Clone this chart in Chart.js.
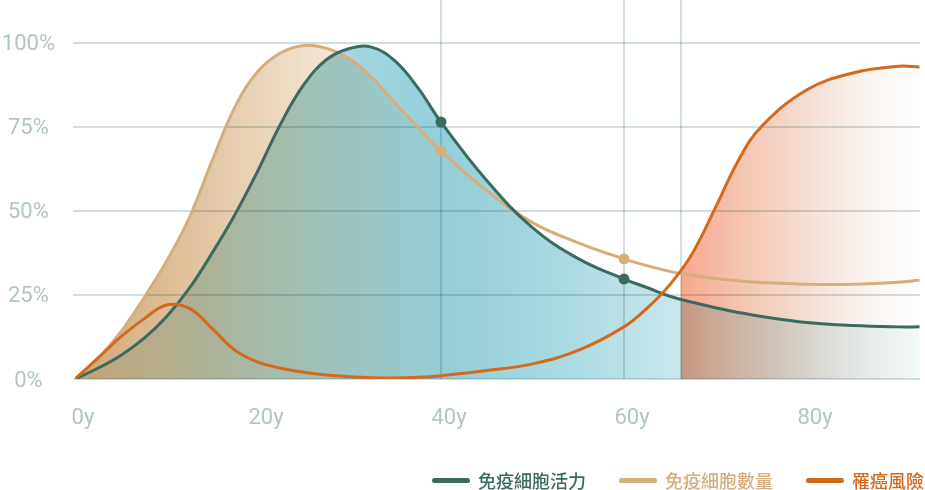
<!DOCTYPE html>
<html>
<head>
<meta charset="utf-8">
<script src="https://cdn.jsdelivr.net/npm/chart.js@4"></script>
<style>
  body { margin: 0; background: #fff; }
  #wrap { position: relative; width: 925px; height: 490px; }
  #legend { position: absolute; left: 432px; top: 468px; display: flex; gap: 33px; align-items: center;
            font: 500 18px "Noto Sans CJK TC", sans-serif; line-height: 24px; }
  #legend .item { display: flex; align-items: center; }
  #legend i { display: block; width: 38px; height: 5px; border-radius: 3px; margin-right: 8px; }
</style>
</head>
<body>
<div id="wrap">
  <canvas id="myChart" width="925" height="490"></canvas>
  <div id="legend"></div>
</div>
<script>
// ages (years) and values (%)
const ages        = [0, 2.5, 5, 7.5, 10, 12.5, 15, 17.5, 20, 22.5, 25, 27.5, 30, 32.5, 35, 37.5, 40, 45, 50, 55, 60, 62.5, 65, 67.5, 70, 72.5, 75, 80, 85, 90, 92.3];
const vitality    = [0, 3.2, 7, 12, 18.5, 27, 37.5, 49, 62, 76, 87.5, 95, 98.3, 98.6, 94.5, 86.5, 76.4, 59, 45, 35.8, 29.7, 27.2, 24.6, 22.8, 21.2, 19.8, 18.6, 16.8, 15.9, 15.5, 15.5];
const cellCount   = [0, 6, 14, 24, 35, 48, 65, 81, 91.5, 97, 99.2, 98.3, 95.2, 89.5, 82, 74.8, 67.8, 56, 46.5, 40.5, 35.7, 33.7, 32, 30.8, 29.9, 29.2, 28.7, 28.2, 28.2, 28.8, 29.4];
const cancerRisk  = [0, 6.2, 12.5, 17.8, 22, 21, 15, 8.5, 5, 3.2, 2, 1.2, 0.7, 0.4, 0.3, 0.5, 1, 2.5, 4.5, 8.5, 15.5, 21, 28, 37.5, 51, 65, 75, 86, 91, 93, 92.8];

const seriesNames = ['免疫細胞活力', '免疫細胞數量', '罹癌風險'];
const xTickAges   = [0, 20, 40, 60, 80];
const markerAges  = [40, 60];
const riskStartAge = 66.2;
const yTicks      = [0, 25, 50, 75, 100];

const GREEN = '#3b6a60';
const TAN = '#d5ae7c';
const ORANGE = '#d4691c';
const GRID = '#d3dfdf';
const LABEL = '#b2c5c5';
const seriesColors = [GREEN, TAN, ORANGE];

function toPoints(values) {
    return ages.map((a, i) => ({ x: a, y: values[i] }));
}

// horizontal gradient across the plot area
function hGradient(chart, stops) {
    const { ctx, chartArea } = chart;
    if (!chartArea) return 'transparent';
    const g = ctx.createLinearGradient(chartArea.left, 0, chartArea.right, 0);
    stops.forEach(s => g.addColorStop(s[0], s[1]));
    return g;
}

function tanFill(chart) {
    return hGradient(chart, [
        [0, 'rgba(206,162,112,0.95)'],
        [0.148, 'rgba(213,172,122,0.7)'],
        [0.266, 'rgba(213,173,122,0.4)'],
        [0.43, 'rgba(213,173,122,0.05)'],
        [0.55, 'rgba(213,173,122,0)'],
        [1, 'rgba(213,173,122,0)']
    ]);
}

function tealFill(chart) {
    return hGradient(chart, [
        [0, 'rgba(148,208,218,0.15)'],
        [0.148, 'rgba(148,208,218,0.55)'],
        [0.266, 'rgba(148,208,218,0.77)'],
        [0.432, 'rgba(148,208,218,1)'],
        [0.574, 'rgba(148,208,218,0.8)'],
        [0.717, 'rgba(148,208,218,0.5)'],
        [0.976, 'rgba(148,208,218,0.14)'],
        [1, 'rgba(148,208,218,0.1)']
    ]);
}

function riskFill(chart) {
    const area = chart.chartArea;
    const xs = chart.scales.x;
    if (!area || !xs) return 'transparent';
    const f = (xs.getPixelForValue(riskStartAge) - area.left) / (area.right - area.left);
    return hGradient(chart, [
        [0, 'rgba(250,160,130,0)'],
        [f, 'rgba(250,160,130,0)'],
        [f, 'rgba(250,160,130,0.93)'],
        [0.858, 'rgba(235,195,175,0.6)'],
        [1, 'rgba(245,235,228,0.08)']
    ]);
}

function markerRadius(ctx) {
    return markerAges.includes(ages[ctx.dataIndex]) ? 5.5 : 0;
}

// fills are blended with multiply, lines drawn normally on top
const blendPlugin = {
    id: 'blend',
    beforeDraw(chart) { chart.ctx.globalCompositeOperation = 'multiply'; },
    beforeDatasetsDraw(chart) { chart.ctx.globalCompositeOperation = 'source-over'; }
};

const tickFont = { family: 'Roboto', size: 22, weight: 400 };

const ctx = document.getElementById('myChart').getContext('2d');
const chart = new Chart(ctx, {
    type: 'line',
    data: {
        datasets: [
            {
                label: seriesNames[2],
                data: toPoints(cancerRisk),
                borderColor: ORANGE,
                borderWidth: 3,
                pointRadius: 0,
                fill: 'origin',
                backgroundColor: c => riskFill(c.chart),
                tension: 0.4
            },
            {
                label: seriesNames[0],
                data: toPoints(vitality),
                borderColor: GREEN,
                borderWidth: 3,
                pointRadius: markerRadius,
                pointBackgroundColor: GREEN,
                pointBorderWidth: 0,
                fill: 'origin',
                backgroundColor: c => tealFill(c.chart),
                tension: 0.4
            },
            {
                label: seriesNames[1],
                data: toPoints(cellCount),
                borderColor: TAN,
                borderWidth: 3,
                pointRadius: markerRadius,
                pointBackgroundColor: TAN,
                pointBorderWidth: 0,
                fill: 'origin',
                backgroundColor: c => tanFill(c.chart),
                tension: 0.4
            }
        ]
    },
    options: {
        responsive: false,
        animation: false,
        devicePixelRatio: 1,
        layout: { padding: { left: 0, right: 5, top: 0, bottom: 0 } },
        plugins: {
            legend: { display: false },
            tooltip: { enabled: false },
            filler: { drawTime: 'beforeDatasetsDraw' }
        },
        scales: {
            x: {
                type: 'linear',
                min: 0,
                max: 92.35,
                afterBuildTicks: s => {
                    s.ticks = [...xTickAges, riskStartAge].sort((a, b) => a - b).map(v => ({ value: v }));
                },
                afterFit: s => { s.height = 111; s.paddingLeft = 0; s.paddingRight = 0; },
                border: { display: false },
                grid: {
                    color: c => (c.tick && (markerAges.includes(c.tick.value) || c.tick.value === riskStartAge)) ? GRID : 'transparent',
                    lineWidth: 2,
                    drawTicks: false
                },
                ticks: {
                    callback: v => xTickAges.includes(v) ? v + 'y' : '',
                    font: tickFont,
                    color: LABEL,
                    padding: 26,
                    labelOffset: 8,
                    autoSkip: false,
                    maxRotation: 0
                }
            },
            y: {
                min: 0,
                max: 112.7,
                afterBuildTicks: s => { s.ticks = yTicks.map(v => ({ value: v })); },
                afterFit: s => { s.width = 75; s.paddingTop = 0; s.paddingBottom = 0; },
                border: { display: false },
                grid: { color: GRID, lineWidth: 2, tickLength: 2 },
                ticks: {
                    callback: v => v + '%',
                    font: tickFont,
                    color: LABEL,
                    padding: 18,
                    crossAlign: 'center',
                    labelOffset: 2
                }
            }
        }
    },
    plugins: [blendPlugin]
});

// legend
const legend = document.getElementById('legend');
seriesNames.forEach((name, i) => {
    const item = document.createElement('div');
    item.className = 'item';
    item.innerHTML = '<i style="background:' + seriesColors[i] + '"></i><span style="color:' + seriesColors[i] + '">' + name + '</span>';
    legend.appendChild(item);
});
</script>
</body>
</html>
